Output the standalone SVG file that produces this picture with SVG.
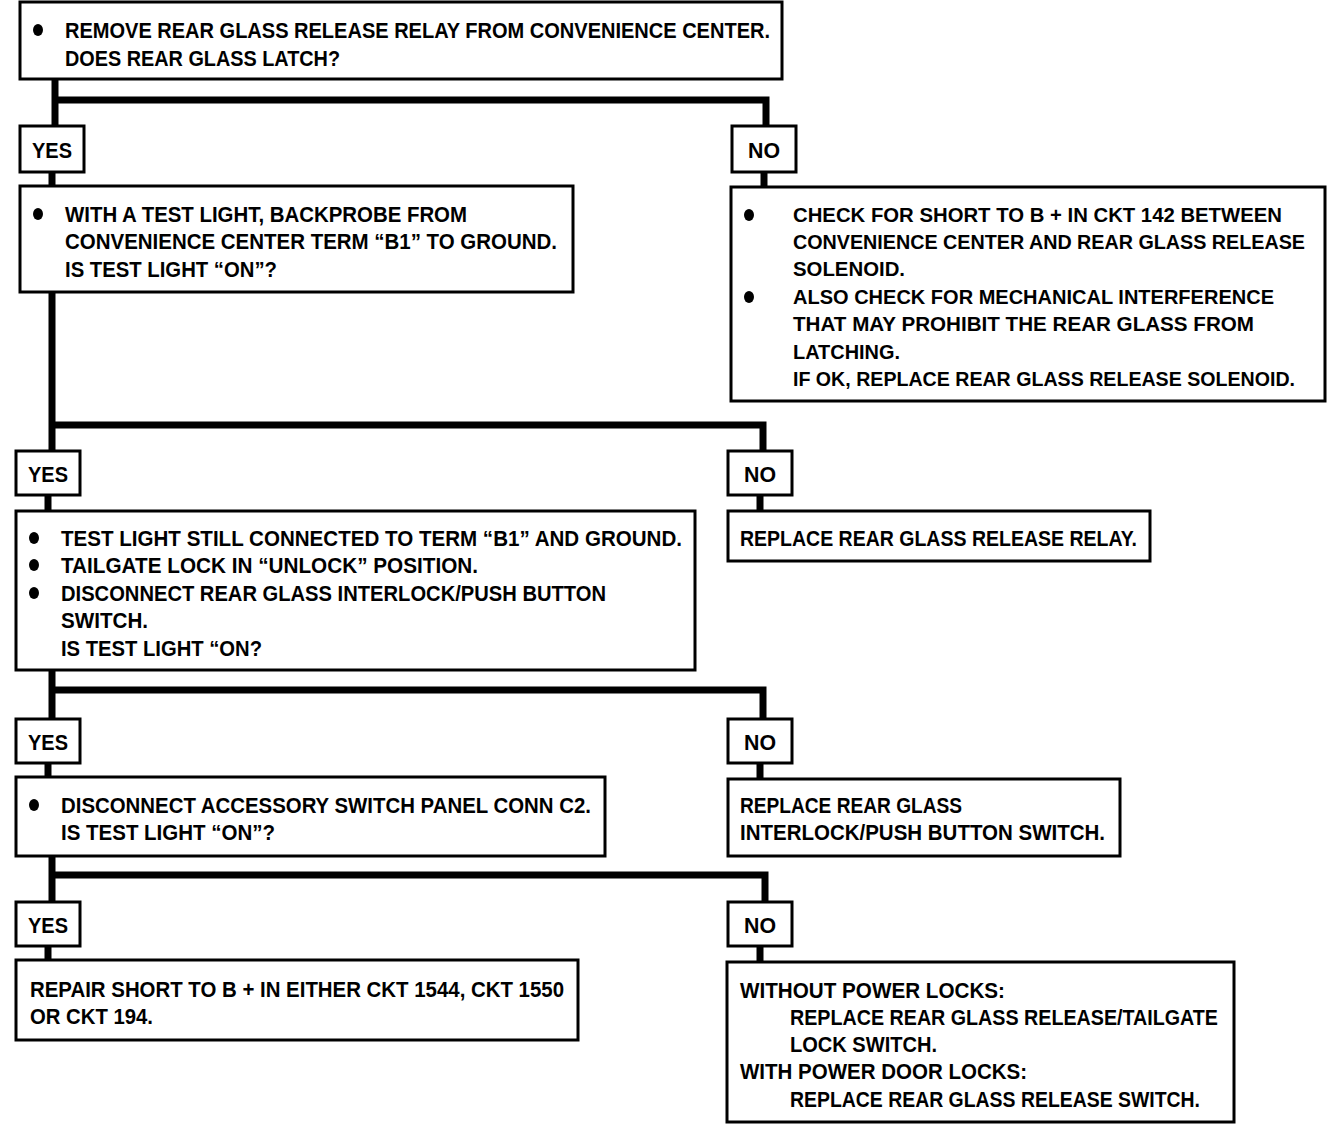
<svg xmlns="http://www.w3.org/2000/svg" width="1344" height="1124" viewBox="0 0 1344 1124">
<style>
.box{fill:#fff;stroke:#000;stroke-width:3}
.t{font-family:"Liberation Sans",Arial,sans-serif;font-weight:bold;font-size:22px;fill:#000}
.s{font-size:20px}
.c{fill:none;stroke:#000;stroke-width:7;stroke-linejoin:miter}
.b{fill:#000}
</style>
<rect width="1344" height="1124" fill="#fff"/>
<g id="connectors">
<polyline class="c" points="55,79 55,128"/>
<polyline class="c" points="55,100 766,100 766,128"/>
<polyline class="c" points="52,172 52,186"/>
<polyline class="c" points="764,172 764,187"/>
<polyline class="c" points="52,292 52,451"/>
<polyline class="c" points="52,425 763,425 763,451"/>
<polyline class="c" points="48,495 48,511"/>
<polyline class="c" points="760,495 760,511"/>
<polyline class="c" points="52,670 52,719"/>
<polyline class="c" points="52,690 763,690 763,719"/>
<polyline class="c" points="48,763 48,777"/>
<polyline class="c" points="760,763 760,779"/>
<polyline class="c" points="52,856 52,902"/>
<polyline class="c" points="52,875 765,875 765,902"/>
<polyline class="c" points="48,946 48,960"/>
<polyline class="c" points="760,946 760,962"/>
</g>
<g id="q1">
<rect class="box" x="20" y="2" width="762" height="77"/>
<ellipse class="b" cx="38" cy="30" rx="5" ry="6"/>
<text class="t" x="65" y="38" textLength="705" lengthAdjust="spacingAndGlyphs">REMOVE REAR GLASS RELEASE RELAY FROM CONVENIENCE CENTER.</text>
<text class="t" x="65" y="66" textLength="275" lengthAdjust="spacingAndGlyphs">DOES REAR GLASS LATCH?</text>
</g>
<g id="yes1">
<rect class="box" x="20" y="126" width="64" height="46"/>
<text class="t" x="32" y="158" textLength="40" lengthAdjust="spacingAndGlyphs">YES</text>
</g>
<g id="no1">
<rect class="box" x="732" y="126" width="64" height="46"/>
<text class="t" x="748" y="158" textLength="32" lengthAdjust="spacingAndGlyphs">NO</text>
</g>
<g id="q2">
<rect class="box" x="20" y="186" width="553" height="106"/>
<ellipse class="b" cx="38" cy="214" rx="5" ry="6"/>
<text class="t" x="65" y="222" textLength="402" lengthAdjust="spacingAndGlyphs">WITH A TEST LIGHT, BACKPROBE FROM</text>
<text class="t" x="65" y="249" textLength="492" lengthAdjust="spacingAndGlyphs">CONVENIENCE CENTER TERM “B1” TO GROUND.</text>
<text class="t" x="65" y="277" textLength="212" lengthAdjust="spacingAndGlyphs">IS TEST LIGHT “ON”?</text>
</g>
<g id="a1">
<rect class="box" x="731" y="187" width="594" height="214"/>
<ellipse class="b" cx="749" cy="215" rx="5" ry="6"/>
<ellipse class="b" cx="749" cy="297" rx="5" ry="6"/>
<text class="t s" x="793" y="222" textLength="489" lengthAdjust="spacingAndGlyphs">CHECK FOR SHORT TO B +  IN CKT 142 BETWEEN</text>
<text class="t s" x="793" y="249" textLength="512" lengthAdjust="spacingAndGlyphs">CONVENIENCE CENTER AND REAR GLASS RELEASE</text>
<text class="t s" x="793" y="276" textLength="112" lengthAdjust="spacingAndGlyphs">SOLENOID.</text>
<text class="t s" x="793" y="304" textLength="481" lengthAdjust="spacingAndGlyphs">ALSO CHECK FOR MECHANICAL INTERFERENCE</text>
<text class="t s" x="793" y="331" textLength="461" lengthAdjust="spacingAndGlyphs">THAT MAY PROHIBIT THE REAR GLASS FROM</text>
<text class="t s" x="793" y="359" textLength="107" lengthAdjust="spacingAndGlyphs">LATCHING.</text>
<text class="t s" x="793" y="386" textLength="502" lengthAdjust="spacingAndGlyphs">IF OK, REPLACE REAR GLASS RELEASE SOLENOID.</text>
</g>
<g id="yes2">
<rect class="box" x="16" y="451" width="64" height="44"/>
<text class="t" x="28" y="482" textLength="40" lengthAdjust="spacingAndGlyphs">YES</text>
</g>
<g id="no2">
<rect class="box" x="728" y="451" width="64" height="44"/>
<text class="t" x="744" y="482" textLength="32" lengthAdjust="spacingAndGlyphs">NO</text>
</g>
<g id="q3">
<rect class="box" x="16" y="511" width="679" height="159"/>
<ellipse class="b" cx="34" cy="538" rx="5" ry="6"/>
<ellipse class="b" cx="34" cy="565" rx="5" ry="6"/>
<ellipse class="b" cx="34" cy="593" rx="5" ry="6"/>
<text class="t" x="61" y="546" textLength="621" lengthAdjust="spacingAndGlyphs">TEST LIGHT STILL CONNECTED TO TERM “B1” AND GROUND.</text>
<text class="t" x="61" y="573" textLength="417" lengthAdjust="spacingAndGlyphs">TAILGATE LOCK IN “UNLOCK” POSITION.</text>
<text class="t" x="61" y="601" textLength="545" lengthAdjust="spacingAndGlyphs">DISCONNECT REAR GLASS INTERLOCK/PUSH BUTTON</text>
<text class="t" x="61" y="628" textLength="87" lengthAdjust="spacingAndGlyphs">SWITCH.</text>
<text class="t" x="61" y="656" textLength="201" lengthAdjust="spacingAndGlyphs">IS TEST LIGHT “ON?</text>
</g>
<g id="a2">
<rect class="box" x="728" y="511" width="422" height="50"/>
<text class="t" x="740" y="546" textLength="397" lengthAdjust="spacingAndGlyphs">REPLACE REAR GLASS RELEASE RELAY.</text>
</g>
<g id="yes3">
<rect class="box" x="16" y="719" width="64" height="44"/>
<text class="t" x="28" y="750" textLength="40" lengthAdjust="spacingAndGlyphs">YES</text>
</g>
<g id="no3">
<rect class="box" x="728" y="719" width="64" height="44"/>
<text class="t" x="744" y="750" textLength="32" lengthAdjust="spacingAndGlyphs">NO</text>
</g>
<g id="q4">
<rect class="box" x="16" y="777" width="589" height="79"/>
<ellipse class="b" cx="34" cy="805" rx="5" ry="6"/>
<text class="t" x="61" y="813" textLength="530" lengthAdjust="spacingAndGlyphs">DISCONNECT ACCESSORY SWITCH PANEL CONN C2.</text>
<text class="t" x="61" y="840" textLength="214" lengthAdjust="spacingAndGlyphs">IS TEST LIGHT “ON”?</text>
</g>
<g id="a3">
<rect class="box" x="728" y="779" width="392" height="77"/>
<text class="t" x="740" y="813" textLength="222" lengthAdjust="spacingAndGlyphs">REPLACE REAR GLASS</text>
<text class="t" x="740" y="840" textLength="365" lengthAdjust="spacingAndGlyphs">INTERLOCK/PUSH BUTTON SWITCH.</text>
</g>
<g id="yes4">
<rect class="box" x="16" y="902" width="64" height="44"/>
<text class="t" x="28" y="933" textLength="40" lengthAdjust="spacingAndGlyphs">YES</text>
</g>
<g id="no4">
<rect class="box" x="728" y="902" width="64" height="44"/>
<text class="t" x="744" y="933" textLength="32" lengthAdjust="spacingAndGlyphs">NO</text>
</g>
<g id="a4">
<rect class="box" x="16" y="960" width="562" height="80"/>
<text class="t" x="30" y="997" textLength="534" lengthAdjust="spacingAndGlyphs">REPAIR SHORT TO B +  IN EITHER CKT 1544, CKT 1550</text>
<text class="t" x="30" y="1024" textLength="123" lengthAdjust="spacingAndGlyphs">OR CKT 194.</text>
</g>
<g id="a5">
<rect class="box" x="727" y="962" width="507" height="160"/>
<text class="t" x="740" y="998" textLength="265" lengthAdjust="spacingAndGlyphs">WITHOUT POWER LOCKS:</text>
<text class="t" x="790" y="1025" textLength="428" lengthAdjust="spacingAndGlyphs">REPLACE REAR GLASS RELEASE/TAILGATE</text>
<text class="t" x="790" y="1052" textLength="147" lengthAdjust="spacingAndGlyphs">LOCK SWITCH.</text>
<text class="t" x="740" y="1079" textLength="287" lengthAdjust="spacingAndGlyphs">WITH POWER DOOR LOCKS:</text>
<text class="t" x="790" y="1107" textLength="410" lengthAdjust="spacingAndGlyphs">REPLACE REAR GLASS RELEASE SWITCH.</text>
</g>
</svg>
